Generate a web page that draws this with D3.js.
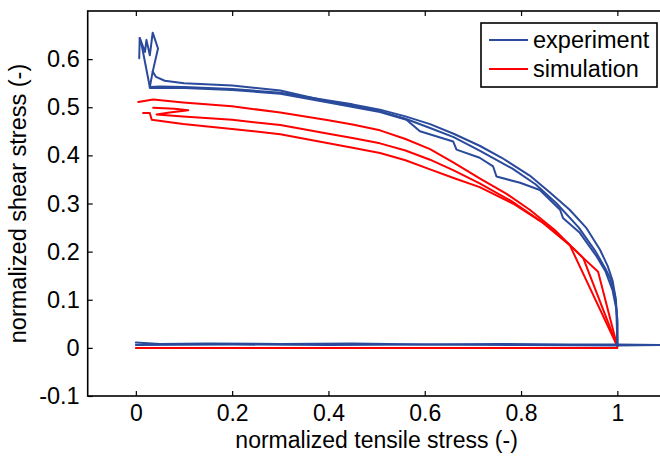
<!DOCTYPE html>
<meta charset="utf-8">
<style>
body { margin: 0; background: #fff; }
text { font-family: "Liberation Sans", Arial, Helvetica, sans-serif; fill: #000; }
.axis path { display: none; }
.axis line { stroke: #000; stroke-width: 1.2px; }
.series { fill: none; stroke-width: 2px; stroke-linejoin: round; stroke-linecap: round; }
</style>
<svg></svg>
<script src="https://cdn.jsdelivr.net/npm/d3@7"></script>
<script>

var width = 660, height = 456;

// tick values
var xTicks = [0, 0.2, 0.4, 0.6, 0.8, 1];
var yTicks = [-0.1, 0, 0.1, 0.2, 0.3, 0.4, 0.5, 0.6];

// experiment (blue)
var expBase = [[0, 0.011], [0.05, 0.008], [0.15, 0.009], [0.3, 0.008], [0.45, 0.009], [0.6, 0.007], [0.75, 0.008], [0.9, 0.007], [1.0, 0.007], [1.1, 0.006]];
var expBase2 = [[0, 0.006], [0.2, 0.007], [0.4, 0.006], [0.6, 0.007], [0.8, 0.006], [1.0, 0.005], [1.1, 0.006]];
var expOuter = [[1.0, 0.007], [1.0, 0.05], [0.997, 0.1], [0.99, 0.14], [0.98, 0.17], [0.964, 0.204], [0.935, 0.25], [0.901, 0.287], [0.86, 0.323], [0.818, 0.358], [0.76, 0.395], [0.714, 0.42], [0.66, 0.445], [0.611, 0.465], [0.56, 0.481], [0.507, 0.495], [0.45, 0.506], [0.4, 0.514], [0.3, 0.53], [0.2, 0.538], [0.1, 0.542], [0.05, 0.543], [0.029, 0.542]];
var expMiddle = [[1.0, 0.007], [1.0, 0.06], [0.995, 0.11], [0.985, 0.145], [0.975, 0.165], [0.955, 0.2], [0.92, 0.25], [0.874, 0.3], [0.83, 0.34], [0.783, 0.372], [0.714, 0.41], [0.66, 0.438], [0.611, 0.457], [0.56, 0.476], [0.507, 0.492], [0.45, 0.503], [0.4, 0.512], [0.3, 0.535], [0.2, 0.545], [0.1, 0.55], [0.06, 0.555], [0.042, 0.563], [0.035, 0.574]];
var expWavy = [[1.0, 0.007], [0.998, 0.08], [0.99, 0.12], [0.975, 0.16], [0.957, 0.19], [0.922, 0.239], [0.887, 0.27], [0.881, 0.287], [0.839, 0.328], [0.798, 0.343], [0.749, 0.356], [0.742, 0.377], [0.714, 0.395], [0.666, 0.412], [0.659, 0.429], [0.59, 0.45], [0.562, 0.474], [0.507, 0.49], [0.4, 0.51], [0.3, 0.528], [0.2, 0.536], [0.1, 0.54], [0.029, 0.54]];
var expPeak1 = [[0.029, 0.542], [0.012, 0.63], [0.008, 0.644], [0.007, 0.602]];
var expPeak2 = [[0.029, 0.542], [0.035, 0.574], [0.046, 0.622], [0.035, 0.655], [0.029, 0.608], [0.022, 0.64], [0.019, 0.615], [0.008, 0.644]];

// simulation (red)
var simBase = [[0, 0], [1.0, 0]];
var simTop = [[0.005, 0.511], [0.036, 0.516], [0.098, 0.51], [0.2, 0.502], [0.3, 0.489], [0.4, 0.473], [0.45, 0.464], [0.507, 0.452], [0.56, 0.434], [0.611, 0.413], [0.66, 0.385], [0.714, 0.352], [0.77, 0.32], [0.818, 0.287], [0.87, 0.245], [0.901, 0.214], [1.0, 0.003]];
var simMiddle = [[0.036, 0.499], [0.08, 0.497], [0.109, 0.494], [0.07, 0.489], [0.043, 0.485], [0.098, 0.481], [0.2, 0.474], [0.3, 0.463], [0.4, 0.445], [0.45, 0.436], [0.507, 0.425], [0.56, 0.41], [0.611, 0.391], [0.66, 0.369], [0.714, 0.342], [0.78, 0.305], [0.84, 0.264], [0.901, 0.214], [0.929, 0.187], [1.0, 0.003]];
var simBottom = [[0.015, 0.488], [0.029, 0.488], [0.033, 0.474], [0.098, 0.465], [0.2, 0.455], [0.3, 0.444], [0.4, 0.425], [0.45, 0.416], [0.507, 0.405], [0.56, 0.39], [0.611, 0.371], [0.66, 0.353], [0.714, 0.334], [0.783, 0.3], [0.85, 0.257], [0.901, 0.214], [0.929, 0.187], [0.96, 0.158], [1.0, 0.003]];

var experiment = [expBase, expBase2, expOuter, expMiddle, expWavy, expPeak1, expPeak2];
var simulation = [simBase, simTop, simMiddle, simBottom];

var blue = "#2a4a9c", red = "#ff0000";

var m = {left: 87.7, right: 665.5, top: 11, bottom: 396};

var x = d3.scaleLinear().domain([-0.1, 1.1]).range([m.left, m.right]);
var y = d3.scaleLinear().domain([-0.1, 0.7]).range([m.bottom, m.top]);

var svg = d3.select("svg")
    .attr("width", width)
    .attr("height", height);

var line = d3.line()
    .x(function(d) { return x(d[0]); })
    .y(function(d) { return y(d[1]); });

var fmt = function(d) { return String(+d.toFixed(1)); };

// axes, ticks pointing inward
svg.append("g")
    .attr("class", "axis")
    .attr("transform", "translate(0," + m.bottom + ")")
    .call(d3.axisBottom(x).tickValues(xTicks).tickSize(-5).tickPadding(9).tickFormat(fmt))
    .selectAll("text").style("font-size", "23px");

svg.append("g")
    .attr("class", "axis")
    .attr("transform", "translate(0," + m.top + ")")
    .call(d3.axisTop(x).tickValues(xTicks).tickSize(-5).tickFormat(""));

svg.append("g")
    .attr("class", "axis")
    .attr("transform", "translate(" + m.left + ",0)")
    .call(d3.axisLeft(y).tickValues(yTicks).tickSize(-5).tickPadding(8).tickFormat(fmt))
    .selectAll("text").style("font-size", "23.5px");

svg.append("g")
    .attr("class", "axis")
    .attr("transform", "translate(" + m.right + ",0)")
    .call(d3.axisRight(y).tickValues(yTicks).tickSize(-5).tickFormat(""));

svg.append("rect")
    .attr("x", m.left).attr("y", m.top)
    .attr("width", m.right - m.left).attr("height", m.bottom - m.top)
    .attr("fill", "none").attr("stroke", "#000").attr("stroke-width", 1.6);

// data
svg.append("g").selectAll("path")
    .data(simulation)
  .enter().append("path")
    .attr("class", "series")
    .attr("stroke", red)
    .attr("d", line);

svg.append("g").selectAll("path")
    .data(experiment)
  .enter().append("path")
    .attr("class", "series")
    .attr("stroke", blue)
    .attr("d", line);

// axis labels
svg.append("text")
    .attr("x", (m.left + m.right) / 2)
    .attr("y", 448)
    .attr("text-anchor", "middle")
    .style("font-size", "23px")
    .text("normalized tensile stress (-)");

svg.append("text")
    .attr("transform", "translate(26," + ((m.top + m.bottom) / 2) + ") rotate(-90)")
    .attr("text-anchor", "middle")
    .style("font-size", "23.5px")
    .text("normalized shear stress (-)");

// legend
var legend = svg.append("g");
legend.append("rect")
    .attr("x", 481).attr("y", 23).attr("width", 176).attr("height", 64)
    .attr("fill", "#fff").attr("stroke", "#000").attr("stroke-width", 1.6);

var entries = [["experiment", blue], ["simulation", red]];
entries.forEach(function(e, i) {
  var ly = 40 + i * 29;
  legend.append("line")
      .attr("x1", 489).attr("x2", 528).attr("y1", ly).attr("y2", ly)
      .attr("stroke", e[1]).attr("stroke-width", 2);
  legend.append("text")
      .attr("x", 533).attr("y", ly + 8)
      .style("font-size", "23.5px")
      .text(e[0]);
});

</script>
